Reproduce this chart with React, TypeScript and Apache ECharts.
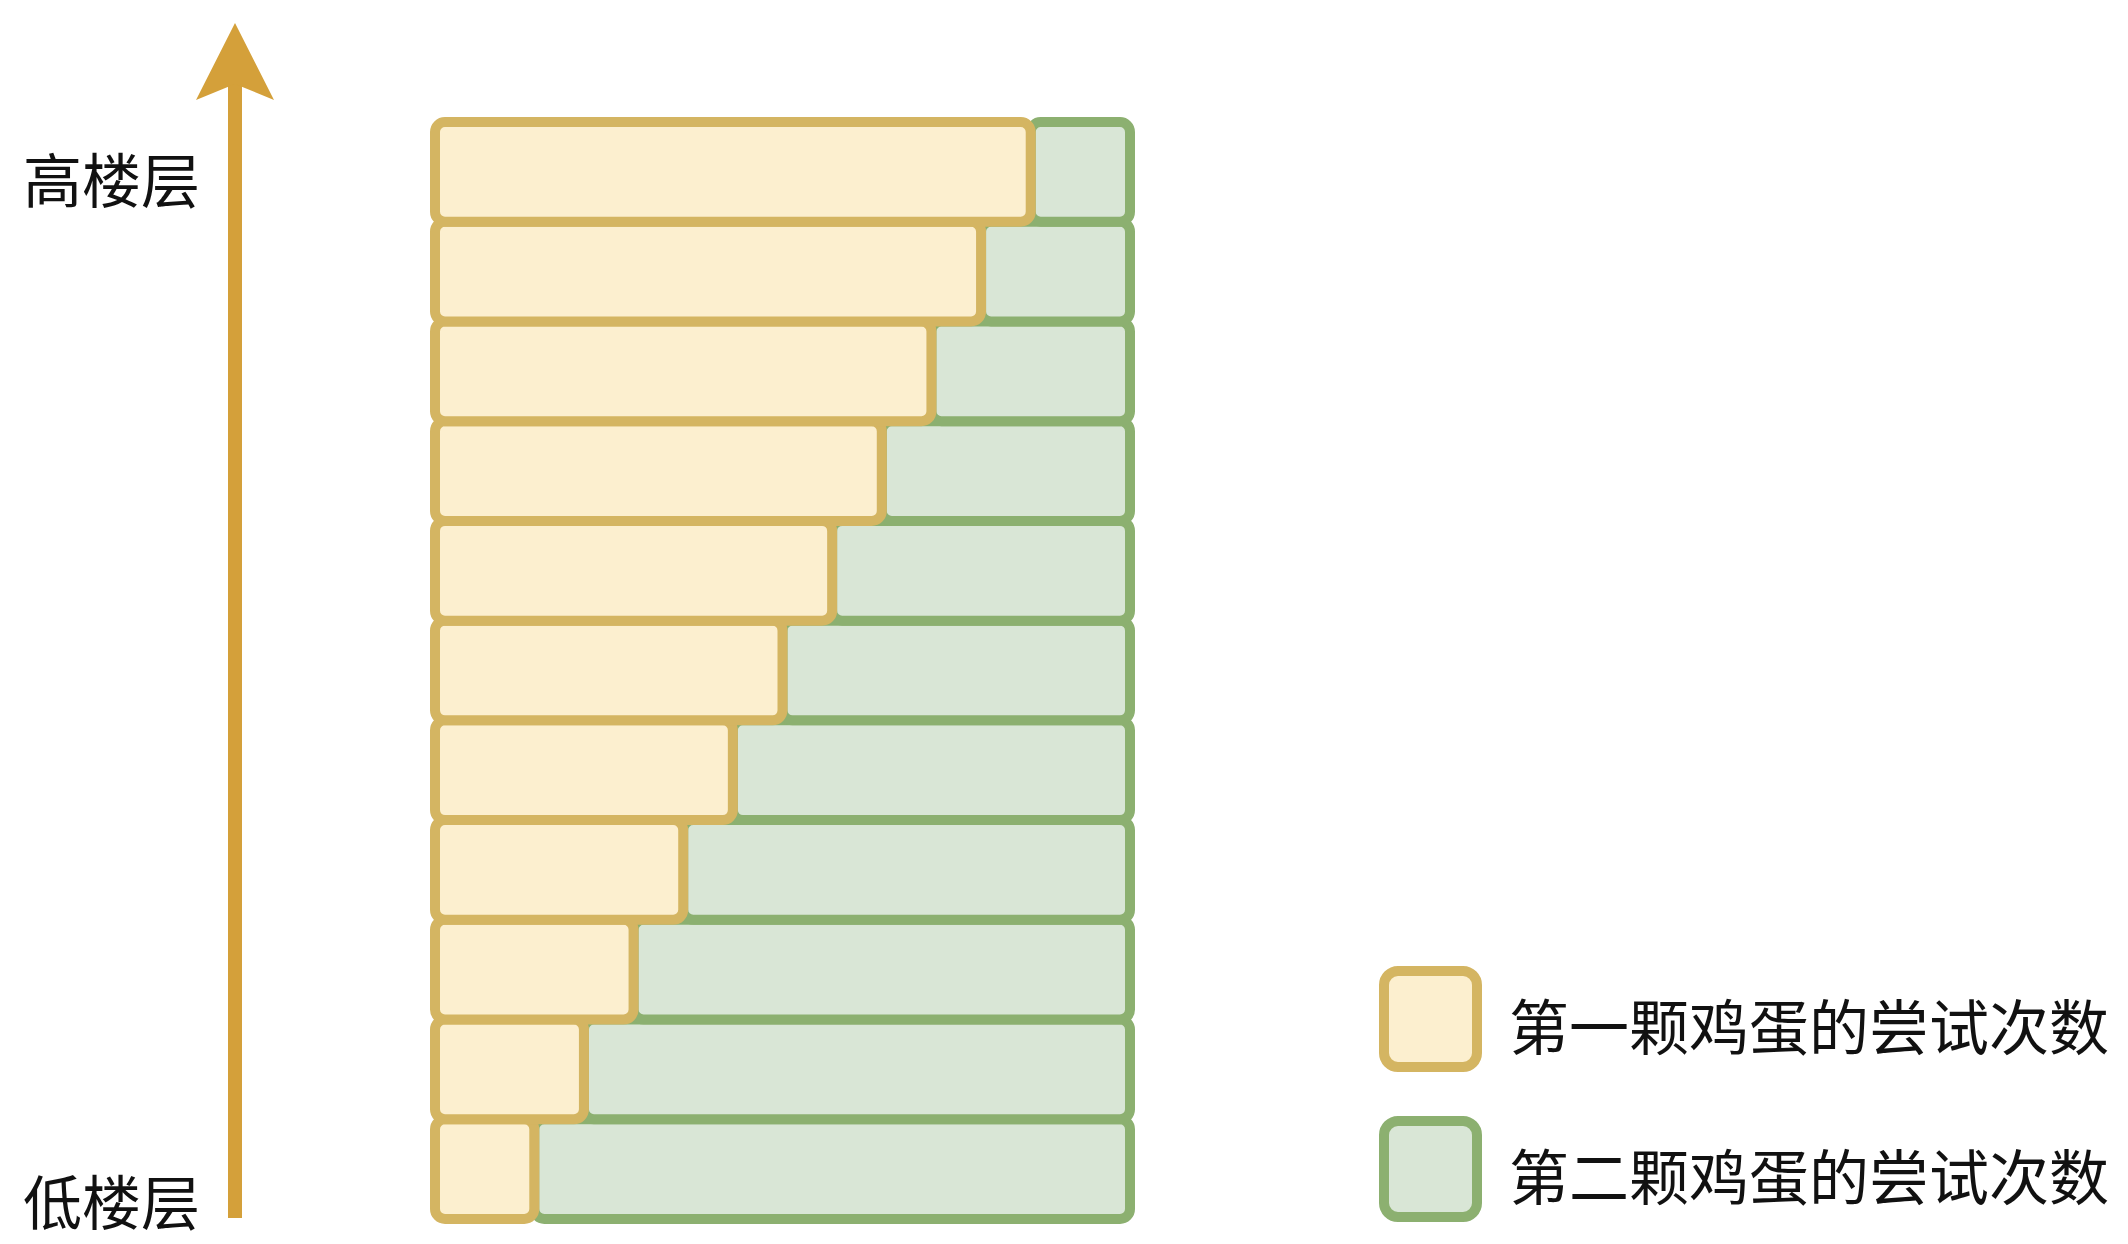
import React, { useEffect, useRef } from "react";
import * as echarts from "echarts";

// Floor groups, bottom (low floors) to top (high floors)
const floorGroups = ["1", "2", "3", "4", "5", "6", "7", "8", "9", "10", "11"];
// Attempts of the first egg per row (bottom -> top)
const firstEggTries = [2, 3, 4, 5, 6, 7, 8, 9, 10, 11, 12];
// Attempts of the second egg per row (bottom -> top)
const secondEggTries = [12, 11, 10, 9, 8, 7, 6, 5, 4, 3, 2];
const seriesNames = ["第一颗鸡蛋的尝试次数", "第二颗鸡蛋的尝试次数"];
const axisLabels = ["高楼层", "低楼层"];

const YELLOW_FILL = "#FCEFCF";
const YELLOW_STROKE = "#D4B562";
const GREEN_FILL = "#D9E6D6";
const GREEN_STROKE = "#8CB070";
const ARROW = "#D4A03A";
const FONT = "'Noto Sans CJK SC', 'Noto Sans', sans-serif";

export default function App() {
  const ref = useRef<HTMLDivElement>(null);

  useEffect(() => {
    if (!ref.current) return;
    const chart = echarts.init(ref.current, undefined, { renderer: "svg" });

    const yellowData = floorGroups.map((_, i) => [i, 0, firstEggTries[i]]);
    const greenData = floorGroups.map((_, i) => [
      i,
      firstEggTries[i],
      firstEggTries[i] + secondEggTries[i],
    ]);

    const makeRender = (fill: string, stroke: string) => (params: any, api: any) => {
      const cat = api.value(0);
      const start = api.value(1);
      const end = api.value(2);
      const p0 = api.coord([start, cat]);
      const p1 = api.coord([end, cat]);
      const h = api.size([0, 1])[1];
      return {
        type: "rect",
        shape: { x: p0[0], y: p0[1] - h / 2, width: p1[0] - p0[0], height: h, r: 10 },
        style: { fill, stroke, lineWidth: 10 },
      };
    };

    const textStyle = (text: string, size: number) => ({
      text,
      fontSize: size,
      fontFamily: FONT,
      fill: "#111111",
      verticalAlign: "middle",
      align: "left",
    });

    chart.setOption({
      animation: false,
      backgroundColor: "#ffffff",
      grid: { left: 435, right: 998, top: 122, bottom: 25, containLabel: false },
      xAxis: { type: "value", min: 0, max: 14, show: false },
      yAxis: { type: "category", data: floorGroups, show: false },
      series: [
        {
          name: seriesNames[1],
          type: "custom",
          renderItem: makeRender(GREEN_FILL, GREEN_STROKE),
          encode: { x: [1, 2], y: 0 },
          data: greenData,
          z: 2,
        },
        {
          name: seriesNames[0],
          type: "custom",
          renderItem: makeRender(YELLOW_FILL, YELLOW_STROKE),
          encode: { x: [1, 2], y: 0 },
          data: yellowData,
          z: 3,
        },
      ],
      graphic: [
        // arrow shaft
        {
          type: "line",
          shape: { x1: 235, y1: 1218, x2: 235, y2: 80 },
          style: { stroke: ARROW, lineWidth: 14 },
        },
        // arrow head
        {
          type: "polygon",
          shape: { points: [[235, 23], [274, 100], [235, 84], [196, 100]] },
          style: { fill: ARROW },
        },
        { type: "text", x: 23, y: 177, style: textStyle(axisLabels[0], 59) },
        { type: "text", x: 23, y: 1199, style: textStyle(axisLabels[1], 59) },
        // legend
        {
          type: "rect",
          shape: { x: 1384, y: 971, width: 93, height: 96, r: 14 },
          style: { fill: YELLOW_FILL, stroke: YELLOW_STROKE, lineWidth: 10 },
        },
        { type: "text", x: 1509, y: 1023, style: textStyle(seriesNames[0], 60) },
        {
          type: "rect",
          shape: { x: 1384, y: 1121, width: 93, height: 96, r: 14 },
          style: { fill: GREEN_FILL, stroke: GREEN_STROKE, lineWidth: 10 },
        },
        { type: "text", x: 1509, y: 1173, style: textStyle(seriesNames[1], 60) },
      ],
    });

    return () => chart.dispose();
  }, []);

  return (
    <div
      ref={ref}
      style={{ position: "fixed", left: 0, top: 0, width: 2128, height: 1244, background: "#fff" }}
    />
  );
}
